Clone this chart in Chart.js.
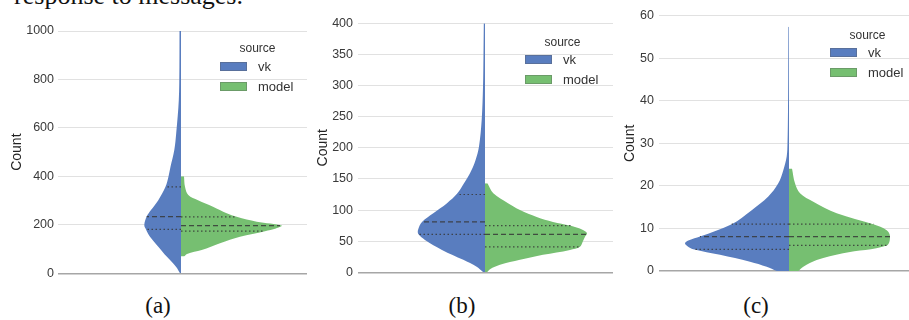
<!DOCTYPE html>
<html>
<head>
<meta charset="utf-8">
<script src="https://cdn.jsdelivr.net/npm/chart.js@4.4.1/dist/chart.umd.min.js"></script>
<style>
  body { margin: 0; background: #fff; }
  #page { position: relative; width: 909px; height: 320px; overflow: hidden; background: #fff;
          font-family: "Liberation Sans", Arial, sans-serif; color: #333; }
  canvas { position: absolute; top: 0; }
  .cap { position: absolute; top: 294px; width: 60px; margin-left: -30px; text-align: center;
         font-family: "Liberation Serif", "Times New Roman", serif; font-size: 23px; line-height: 23px; color: #111; }
  .prev { position: absolute; left: -300px; width: 543px; top: -17px; text-align: right; white-space: nowrap;
          font-family: "Liberation Serif", "Times New Roman", serif; font-size: 26px; line-height: 26px; color: #111; }
  .lg-title { position: absolute; font-size: 12px; line-height: 14px; width: 60px; margin-left: -30px; text-align: center; }
  .lg-patch { position: absolute; width: 27px; height: 9px; border: 0.5px solid rgba(90,90,90,0.35); box-sizing: border-box; }
  .lg-text { position: absolute; font-size: 13px; line-height: 15px; white-space: nowrap; }
</style>
</head>
<body>
<div id="page">
  <div class="prev">response to messages.</div>
  <canvas id="chartA" width="298" height="290" style="left:9px"></canvas>
  <canvas id="chartB" width="298" height="290" style="left:315px"></canvas>
  <canvas id="chartC" width="287" height="290" style="left:622px"></canvas>
  <div class="cap" style="left:158px">(a)</div>
  <div class="cap" style="left:462px">(b)</div>
  <div class="cap" style="left:756px">(c)</div>
</div>
<script>
const sources = ["vk", "model"];
const BLUE = "#597dbf";
const GREEN = "#76bf71";

// (a) count levels and half widths of the density
const ticksA = [0, 200, 400, 600, 800, 1000];
const countA_vk = [0, 27, 69, 110, 151, 181, 199, 234, 261, 302, 357, 400, 440, 509, 578, 715, 850, 1000];
const densA_vk = [1, 5, 14.3, 22.7, 31, 35, 36.7, 34.3, 30, 22.7, 15.5, 12.5, 10.5, 6.7, 4.8, 2.2, 1.6, 1.5];
const countA_model = [69, 80, 96, 124, 151, 174, 185, 197, 213, 233, 248, 275, 302, 323, 357, 401];
const densA_model = [3, 6, 20.7, 39, 59, 84, 95, 100.7, 75.7, 55.7, 45.7, 32, 17, 7.3, 4, 3];
const quartA_vk = [181, 234, 357];
const quartWA_vk = [34.3, 34.3, 15];
const quartA_model = [174, 197, 233];
const quartWA_model = [84, 99, 55.7];

// (b)
const ticksB = [0, 50, 100, 150, 200, 250, 300, 350, 400];
const countB_vk = [0, 9, 20, 36, 52, 61, 68, 81, 95, 111, 126, 143, 159, 180, 202, 245, 298, 350, 400];
const densB_vk = [1.7, 8.3, 21.7, 43, 60, 66.5, 67, 63, 51.7, 38, 28, 21, 15, 9.5, 6, 3.3, 2, 1.5, 1.2];
const countB_model = [0, 5, 12, 20, 28, 36, 41, 49, 57, 62.6, 68, 75, 81, 89, 100, 111, 127, 143];
const densB_model = [2, 5, 15, 35, 58, 85, 95, 97.7, 100, 102, 98, 85, 68, 51.7, 35, 23, 8.3, 2.5];
const quartB_vk = [61, 81, 125];
const quartWB_vk = [66.5, 63, 28];
const quartB_model = [41, 61, 75];
const quartWB_model = [95, 101, 86];

// (c)
const ticksC = [0, 10, 20, 30, 40, 50, 60];
const countC_vk = [0, 1.0, 2.2, 3.8, 5.1, 5.8, 6.5, 7.2, 8.1, 11.0, 14.3, 17.5, 20.6, 23.7, 26.9, 30, 37.8, 45, 57.4];
const densC_vk = [12.3, 22.3, 39, 69, 95.7, 101.5, 104, 100, 89, 57.3, 37.3, 20.7, 10.7, 5.7, 2.3, 1.5, 1, 0.8, 0.6];
const countC_model = [0, 1.0, 2.6, 4.2, 6.0, 8.1, 9.6, 11, 13.6, 16.3, 18.3, 20.6, 24.1];
const densC_model = [9.3, 14.3, 27.7, 54, 97.7, 101, 97.7, 84.3, 47.7, 24.3, 11, 6, 3];
const quartC_vk = [5.1, 8.1, 11];
const quartWC_vk = [95.7, 89, 57.3];
const quartC_model = [6.0, 8.1, 11];
const quartWC_model = [97.7, 101, 84.3];

const FONT = "'Liberation Sans', Arial, sans-serif";

function halfViolin(label, counts, dens, sign, color) {
  return {
    label: label,
    data: counts.map((c, i) => ({ x: sign * dens[i], y: c })),
    backgroundColor: color,
    borderColor: color,
    borderWidth: 0,
    pointRadius: 0,
    tension: 0.35,
    fill: "origin",
    order: 2
  };
}

function quartileLines(levels, widths, sign) {
  return levels.map((q, i) => ({
    label: "q" + i,
    data: [{ x: 0, y: q }, { x: sign * widths[i], y: q }],
    borderColor: "rgba(55,55,55,0.85)",
    borderWidth: 1.2,
    borderDash: i === 1 ? [5, 3] : [1.5, 2.5],
    pointRadius: 0,
    tension: 0,
    fill: false,
    order: 0
  }));
}

function violinChart(id, p) {
  const datasets = [
    halfViolin(sources[0], p.vkY, p.vkW, -1, BLUE),
    halfViolin(sources[1], p.mY, p.mW, 1, GREEN),
    ...quartileLines(p.vkQ, p.vkQW, -1),
    ...quartileLines(p.mQ, p.mQW, 1)
  ];
  return new Chart(document.getElementById(id), {
    type: "line",
    data: { datasets: datasets },
    options: {
      indexAxis: "y",
      responsive: false,
      animation: false,
      events: [],
      layout: { padding: { left: 0, right: 0, top: p.top, bottom: 290 - p.bottom } },
      plugins: { legend: { display: false }, tooltip: { enabled: false } },
      scales: {
        x: { type: "linear", display: false, min: p.xMin, max: p.xMax },
        y: {
          type: "linear",
          min: p.ticks[0],
          max: p.ticks[p.ticks.length - 1],
          afterBuildTicks: (s) => { s.ticks = p.ticks.map((v) => ({ value: v })); },
          afterFit: (s) => { s.width = p.axisW; },
          border: { display: false },
          grid: {
            drawTicks: false,
            color: (c) => (c.tick && c.tick.value === 0 ? "#a6a6a6" : "#e1e1e1"),
            lineWidth: (c) => (c.tick && c.tick.value === 0 ? 1.6 : 1)
          },
          ticks: {
            padding: p.tickPad,
            color: "#3a3a3a",
            font: { family: FONT, size: 12.5 },
            callback: (v) => String(v)
          },
          title: { display: true, text: "Count", color: "#222", padding: 0, font: { family: FONT, size: 14 } }
        }
      }
    }
  });
}

function addLegend(patchLeft, vkTop) {
  const page = document.getElementById("page");
  const t = document.createElement("div");
  t.className = "lg-title";
  t.textContent = "source";
  t.style.left = (patchLeft + 37.5) + "px";
  t.style.top = (vkTop - 20.5) + "px";
  page.appendChild(t);
  [BLUE, GREEN].forEach((col, i) => {
    const top = vkTop + i * 20;
    const patch = document.createElement("div");
    patch.className = "lg-patch";
    patch.style.left = patchLeft + "px";
    patch.style.top = top + "px";
    patch.style.background = col;
    page.appendChild(patch);
    const txt = document.createElement("div");
    txt.className = "lg-text";
    txt.textContent = sources[i];
    txt.style.left = (patchLeft + 38) + "px";
    txt.style.top = (top - 3) + "px";
    page.appendChild(txt);
  });
}

violinChart("chartA", {
  ticks: ticksA, vkY: countA_vk, vkW: densA_vk, mY: countA_model, mW: densA_model,
  vkQ: quartA_vk, vkQW: quartWA_vk, mQ: quartA_model, mQW: quartWA_model,
  top: 31, bottom: 273.3, xMin: -123, xMax: 126, axisW: 49, tickPad: 4
});
violinChart("chartB", {
  ticks: ticksB, vkY: countB_vk, vkW: densB_vk, mY: countB_model, mW: densB_model,
  vkQ: quartB_vk, vkQW: quartWB_vk, mQ: quartB_model, mQW: quartWB_model,
  top: 23.3, bottom: 272.3, xMin: -127, xMax: 128, axisW: 43, tickPad: 5
});
violinChart("chartC", {
  ticks: ticksC, vkY: countC_vk, vkW: densC_vk, mY: countC_model, mW: densC_model,
  vkQ: quartC_vk, vkQW: quartWC_vk, mQ: quartC_model, mQW: quartWC_model,
  top: 15.7, bottom: 271, xMin: -130, xMax: 120, axisW: 37, tickPad: 5
});

addLegend(220, 61.7);
addLegend(525, 55);
addLegend(830, 48);
</script>
</body>
</html>
